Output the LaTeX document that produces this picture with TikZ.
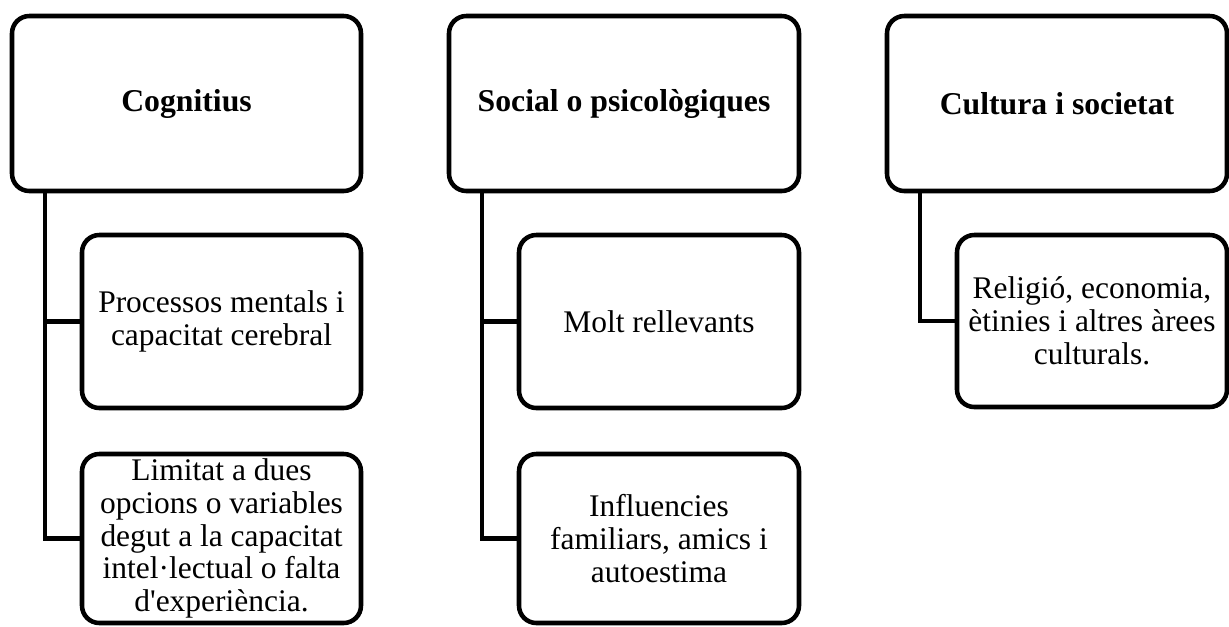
\documentclass[tikz,border=0pt]{standalone}
\usepackage{fontspec}
\setmainfont{Liberation Serif}
\begin{document}
\begin{tikzpicture}[x=0.75pt,y=-0.75pt,
  box/.style={draw=black, line width=3.4pt, rounded corners=13pt, inner sep=0pt, align=center,
    font=\fontsize{23.6}{24.6}\selectfont},
  head/.style={box, font=\fontsize{23.8}{26}\selectfont\bfseries},
  link/.style={draw=black, line width=3.4pt}]
\useasboundingbox (0,0) rectangle (1229,626);
% top boxes
\node[head, minimum width=261.75pt, minimum height=131.25pt] (t1) at (186.5,103.5) {Cognitius};
\node[head, minimum width=262.5pt, minimum height=131.25pt] (t2) at (624,103.5) {Social o psicològiques};
\node[head, minimum width=255pt, minimum height=131.25pt] (t3) at (1057,103.5) {Cultura i societat};
% children column 1
\node[box, minimum width=209.25pt, minimum height=129.75pt] (a1) at (221.5,321.5) {Processos mentals i\\capacitat cerebral};
\node[box, minimum width=209.25pt, minimum height=126.75pt] (a2) at (221.5,538.5) {Limitat a dues\\opcions o variables\\degut a la capacitat\\intel·lectual o falta\\d\textquotesingle experiència.};
% children column 2
\node[box, minimum width=210pt, minimum height=129.75pt] (b1) at (659,321.5) {Molt rellevants};
\node[box, minimum width=210pt, minimum height=126.75pt] (b2) at (659,538.5) {Influencies\\familiars, amics i\\autoestima};
% child column 3
\node[box, minimum width=202.5pt, minimum height=129pt] (c1) at (1092,321) {Religió, economia,\\ètinies i altres àrees\\culturals.};
% connectors
\draw[link] ([xshift=26.5pt]t1.south west) |- (a1.west);
\draw[link] ([xshift=26.5pt]t1.south west) |- (a2.west);
\draw[link] ([xshift=26.5pt]t2.south west) |- (b1.west);
\draw[link] ([xshift=26.5pt]t2.south west) |- (b2.west);
\draw[link] ([xshift=26.5pt]t3.south west) |- (c1.west);
\end{tikzpicture}
\end{document}
